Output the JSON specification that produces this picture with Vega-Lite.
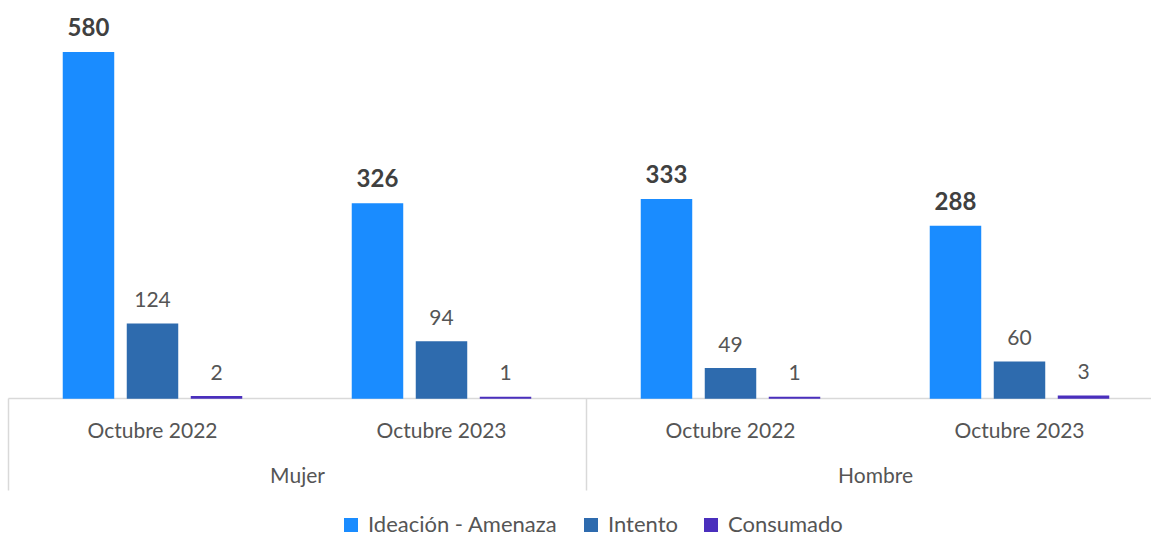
{
  "$schema": "https://vega.github.io/schema/vega-lite/v6.json",
  "width": 1156,
  "height": 398,
  "autosize": {"type": "none"},
  "padding": {"left": 8, "top": 0, "right": 0, "bottom": 138},
  "background": "white",
  "config": {"view": {"stroke": null}, "font": "Lato"},
  "data": {
    "values": [
      {"sexo": "Mujer", "periodo": "Octubre 2022", "cat": "Mujer|Octubre 2022", "serie": "Ideación - Amenaza", "valor": 580},
      {"sexo": "Mujer", "periodo": "Octubre 2022", "cat": "Mujer|Octubre 2022", "serie": "Intento", "valor": 124},
      {"sexo": "Mujer", "periodo": "Octubre 2022", "cat": "Mujer|Octubre 2022", "serie": "Consumado", "valor": 2},
      {"sexo": "Mujer", "periodo": "Octubre 2023", "cat": "Mujer|Octubre 2023", "serie": "Ideación - Amenaza", "valor": 326},
      {"sexo": "Mujer", "periodo": "Octubre 2023", "cat": "Mujer|Octubre 2023", "serie": "Intento", "valor": 94},
      {"sexo": "Mujer", "periodo": "Octubre 2023", "cat": "Mujer|Octubre 2023", "serie": "Consumado", "valor": 1},
      {"sexo": "Hombre", "periodo": "Octubre 2022", "cat": "Hombre|Octubre 2022", "serie": "Ideación - Amenaza", "valor": 333},
      {"sexo": "Hombre", "periodo": "Octubre 2022", "cat": "Hombre|Octubre 2022", "serie": "Intento", "valor": 49},
      {"sexo": "Hombre", "periodo": "Octubre 2022", "cat": "Hombre|Octubre 2022", "serie": "Consumado", "valor": 1},
      {"sexo": "Hombre", "periodo": "Octubre 2023", "cat": "Hombre|Octubre 2023", "serie": "Ideación - Amenaza", "valor": 288},
      {"sexo": "Hombre", "periodo": "Octubre 2023", "cat": "Hombre|Octubre 2023", "serie": "Intento", "valor": 60},
      {"sexo": "Hombre", "periodo": "Octubre 2023", "cat": "Hombre|Octubre 2023", "serie": "Consumado", "valor": 3}
    ]
  },
  "layer": [
    {
      "layer": [
        {
          "mark": {"type": "bar", "strokeWidth": 1.5},
          "encoding": {
            "x": {
              "field": "cat", "type": "nominal",
              "sort": ["Mujer|Octubre 2022", "Mujer|Octubre 2023", "Hombre|Octubre 2022", "Hombre|Octubre 2023"],
              "scale": {"paddingInner": 0, "paddingOuter": 0},
              "axis": {
                "orient": "bottom",
                "title": null, "labelExpr": "split(datum.label, '|')[1]", "labelAngle": 0,
                "ticks": false, "domainColor": "#d9d9d9", "domainWidth": 1.5,
                "labelFont": "Lato", "labelFontSize": 21, "labelColor": "#555555",
                "labelBaseline": "alphabetic", "labelPadding": 39
              }
            },
            "xOffset": {
              "field": "serie", "type": "nominal",
              "sort": ["Ideación - Amenaza", "Intento", "Consumado"],
              "scale": {"paddingInner": 0.219, "paddingOuter": 0.867}
            },
            "y": {"field": "valor", "type": "quantitative", "scale": {"domain": [0, 668.6], "nice": false, "zero": true}, "axis": null},
            "color": {
              "field": "serie", "type": "nominal",
              "sort": ["Ideación - Amenaza", "Intento", "Consumado"],
              "scale": {"domain": ["Ideación - Amenaza", "Intento", "Consumado"], "range": ["#1A8CFF", "#2E6BAE", "#4A2FBD"]},
              "legend": {
                "orient": "none", "legendX": 332, "legendY": 514, "direction": "horizontal",
                "title": null, "symbolType": "square", "symbolSize": 196, "symbolStrokeWidth": 0,
                "labelFont": "Lato", "labelFontSize": 22, "labelColor": "#555555", "labelLimit": 400,
                "columnPadding": 22, "labelOffset": 6
              }
            },
            "stroke": {
              "field": "serie", "type": "nominal",
              "scale": {"domain": ["Ideación - Amenaza", "Intento", "Consumado"], "range": ["#1A8CFF", "#2E6BAE", "#4A2FBD"]},
              "legend": null
            }
          }
        },
        {
          "transform": [{"filter": "datum.serie === 'Ideación - Amenaza'"}],
          "mark": {"type": "text", "font": "Lato", "fontWeight": "bold", "fontSize": 24, "color": "#404040", "baseline": "alphabetic", "dy": -17},
          "encoding": {
            "x": {"field": "cat", "type": "nominal", "sort": ["Mujer|Octubre 2022", "Mujer|Octubre 2023", "Hombre|Octubre 2022", "Hombre|Octubre 2023"]},
            "xOffset": {"field": "serie", "type": "nominal", "sort": ["Ideación - Amenaza", "Intento", "Consumado"]},
            "y": {"field": "valor", "type": "quantitative"},
            "text": {"field": "valor", "type": "quantitative"}
          }
        },
        {
          "transform": [{"filter": "datum.serie !== 'Ideación - Amenaza'"}],
          "mark": {"type": "text", "font": "Lato", "fontSize": 21, "color": "#555555", "baseline": "alphabetic", "dy": -17},
          "encoding": {
            "x": {"field": "cat", "type": "nominal", "sort": ["Mujer|Octubre 2022", "Mujer|Octubre 2023", "Hombre|Octubre 2022", "Hombre|Octubre 2023"]},
            "xOffset": {"field": "serie", "type": "nominal", "sort": ["Ideación - Amenaza", "Intento", "Consumado"]},
            "y": {"field": "valor", "type": "quantitative"},
            "text": {"field": "valor", "type": "quantitative"}
          }
        }
      ]
    },
    {
      "mark": {"type": "rule", "opacity": 0},
      "encoding": {
        "x": {
          "field": "sexo", "type": "nominal", "sort": ["Mujer", "Hombre"],
          "scale": {"paddingInner": 0, "paddingOuter": 0},
          "axis": {
            "orient": "bottom",
            "title": null, "labelAngle": 0, "domain": false, "ticks": true, "tickBand": "extent",
            "tickSize": 92, "tickColor": "#d9d9d9", "tickWidth": 1.5,
            "labelFont": "Lato", "labelFontSize": 21, "labelColor": "#555555",
            "labelBaseline": "alphabetic", "labelPadding": -8
          }
        }
      }
    }
  ],
  "resolve": {"scale": {"x": "independent"}, "axis": {"x": "independent"}}
}
